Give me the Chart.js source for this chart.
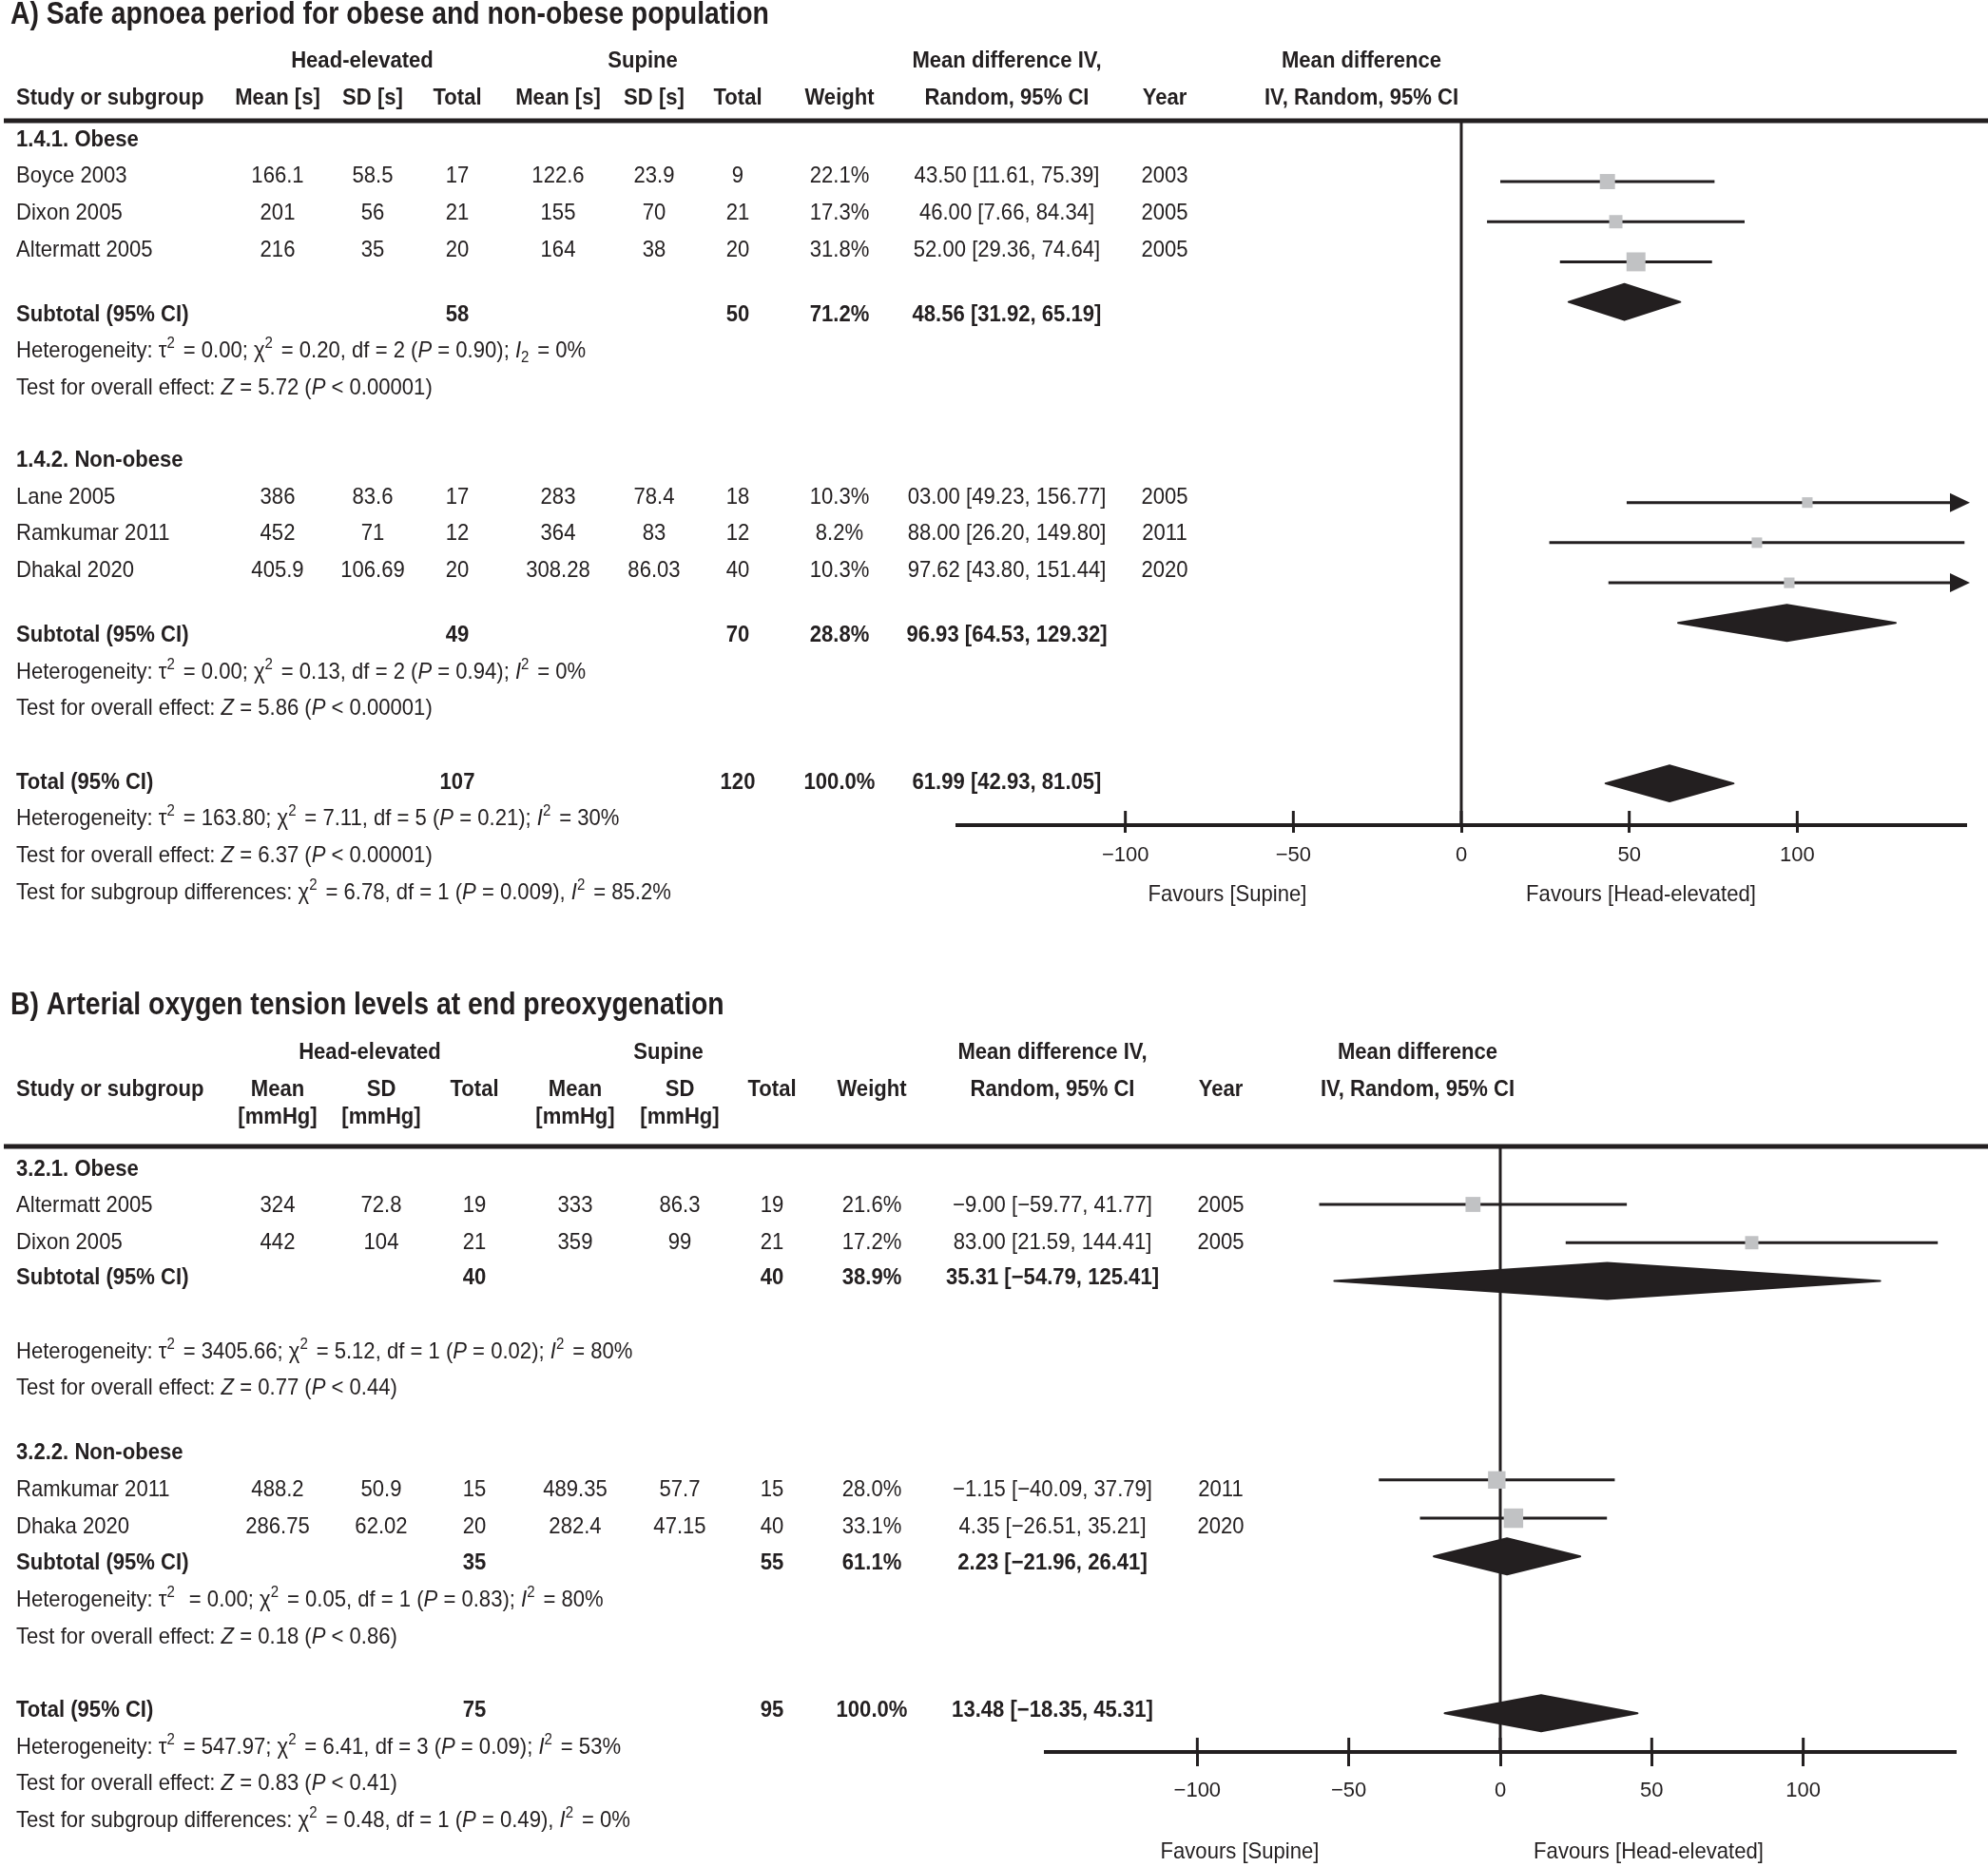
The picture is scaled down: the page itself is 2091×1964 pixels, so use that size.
<!DOCTYPE html>
<html lang="en">
<head>
<meta charset="utf-8">
<title>Forest plots: head-elevated vs supine</title>
<script src="https://cdn.jsdelivr.net/npm/chart.js@4.4.1/dist/chart.umd.min.js"></script>
<style>
  html, body { margin: 0; padding: 0; background: #fff; }
  body { width: 2091px; height: 1964px; position: relative; overflow: hidden; }
  canvas { position: absolute; left: 0; }
  #plotA { top: 0; }
  #plotB { top: 985px; }
</style>
</head>
<body>
<canvas id="plotA" width="2091" height="985"></canvas>
<canvas id="plotB" width="2091" height="979"></canvas>
<script>
// ---------- A) safe apnoea period [s] ----------
const groupsA   = ['1.4.1. Obese', '1.4.2. Non-obese'];
const studiesA  = ['Boyce 2003', 'Dixon 2005', 'Altermatt 2005', 'Lane 2005', 'Ramkumar 2011', 'Dhakal 2020'];
const groupOfA  = [0, 0, 0, 1, 1, 1];
const heMeanA   = [166.1, 201, 216, 386, 452, 405.9];
const heSdA     = [58.5, 56, 35, 83.6, 71, 106.69];
const heNA      = [17, 21, 20, 17, 12, 20];
const suMeanA   = [122.6, 155, 164, 283, 364, 308.28];
const suSdA     = [23.9, 70, 38, 78.4, 83, 86.03];
const suNA      = [9, 21, 20, 18, 12, 40];
const weightA   = [22.1, 17.3, 31.8, 10.3, 8.2, 10.3];
const mdA       = [43.50, 46.00, 52.00, 103.00, 88.00, 97.62];
const loA       = [11.61, 7.66, 29.36, 49.23, 26.20, 43.80];
const hiA       = [75.39, 84.34, 74.64, 156.77, 149.80, 151.44];
const yearA     = [2003, 2005, 2005, 2005, 2011, 2020];
// the source figure prints Lane's estimate truncated
const printedMdA = { 'Lane 2005': '03.00' };

const sumLabelA  = ['Subtotal (95% CI)', 'Subtotal (95% CI)', 'Total (95% CI)'];
const sumHeNA    = [58, 49, 107];
const sumSuNA    = [50, 70, 120];
const sumWeightA = [71.2, 28.8, 100.0];
const sumMdA     = [48.56, 96.93, 61.99];
const sumLoA     = [31.92, 64.53, 42.93];
const sumHiA     = [65.19, 129.32, 81.05];
const statsA = [
  ['Heterogeneity: τ^2 = 0.00; χ^2 = 0.20, df = 2 (*P* = 0.90); *I*_2 = 0%',
   'Test for overall effect: *Z* = 5.72 (*P* < 0.00001)'],
  ['Heterogeneity: τ^2 = 0.00; χ^2 = 0.13, df = 2 (*P* = 0.94); *I*^2 = 0%',
   'Test for overall effect: *Z* = 5.86 (*P* < 0.00001)'],
  ['Heterogeneity: τ^2 = 163.80; χ^2 = 7.11, df = 5 (*P* = 0.21); *I*^2 = 30%',
   'Test for overall effect: *Z* = 6.37 (*P* < 0.00001)',
   'Test for subgroup differences: χ^2 = 6.78, df = 1 (*P* = 0.009), *I*^2 = 85.2%']
];

// ---------- B) arterial oxygen tension [mmHg] ----------
const groupsB   = ['3.2.1. Obese', '3.2.2. Non-obese'];
const studiesB  = ['Altermatt 2005', 'Dixon 2005', 'Ramkumar 2011', 'Dhaka 2020'];
const groupOfB  = [0, 0, 1, 1];
const heMeanB   = [324, 442, 488.2, 286.75];
const heSdB     = [72.8, 104, 50.9, 62.02];
const heNB      = [19, 21, 15, 20];
const suMeanB   = [333, 359, 489.35, 282.4];
const suSdB     = [86.3, 99, 57.7, 47.15];
const suNB      = [19, 21, 15, 40];
const weightB   = [21.6, 17.2, 28.0, 33.1];
const mdB       = [-9.00, 83.00, -1.15, 4.35];
const loB       = [-59.77, 21.59, -40.09, -26.51];
const hiB       = [41.77, 144.41, 37.79, 35.21];
const yearB     = [2005, 2005, 2011, 2020];

const sumLabelB  = ['Subtotal (95% CI)', 'Subtotal (95% CI)', 'Total (95% CI)'];
const sumHeNB    = [40, 35, 75];
const sumSuNB    = [40, 55, 95];
const sumWeightB = [38.9, 61.1, 100.0];
const sumMdB     = [35.31, 2.23, 13.48];
const sumLoB     = [-54.79, -21.96, -18.35];
const sumHiB     = [125.41, 26.41, 45.31];
const statsB = [
  ['Heterogeneity: τ^2 = 3405.66; χ^2 = 5.12, df = 1 (*P* = 0.02); *I*^2 = 80%',
   'Test for overall effect: *Z* = 0.77 (*P* < 0.44)'],
  ['Heterogeneity: τ^2  = 0.00; χ^2 = 0.05, df = 1 (*P* = 0.83); *I*^2 = 80%',
   'Test for overall effect: *Z* = 0.18 (*P* < 0.86)'],
  ['Heterogeneity: τ^2 = 547.97; χ^2 = 6.41, df = 3 (*P* = 0.09); *I*^2 = 53%',
   'Test for overall effect: *Z* = 0.83 (*P* < 0.41)',
   'Test for subgroup differences: χ^2 = 0.48, df = 1 (*P* = 0.49), *I*^2 = 0%']
];

// shared axis
const xMin = -150, xMax = 150;
const xTicks = [-100, -50, 0, 50, 100];
const favoursLabels = ['Favours [Supine]', 'Favours [Head-elevated]'];

// ---------- styles / layout ----------
const INK = '#231f20';
const GREY = '#c1c2c4';
const FONT = '"Liberation Sans", Arial, sans-serif';
const SIZE = 24;
const SX = 0.92;        // squeeze to mimic the condensed face of the source
const AXIS_H = 70;

const layoutA = {
  top: 0, height: 985,
  titleY: 16,
  head: [
    { y: 64, items: [['Head-elevated', 381], ['Supine', 676], ['Mean difference IV,', 1059], ['Mean difference', 1432]] },
    { y: 103, items: [['Mean [s]', 292], ['SD [s]', 392], ['Total', 481], ['Mean [s]', 587], ['SD [s]', 688], ['Total', 776],
                      ['Weight', 883], ['Random, 95% CI', 1059], ['Year', 1225], ['IV, Random, 95% CI', 1432]] }
  ],
  studyHeadY: 103,
  col: { name: 17, heMean: 292, heSd: 392, heN: 481, suMean: 587, suSd: 688, suN: 776, weight: 883, ci: 1059, year: 1225 },
  groupY: [147, 484],
  studyY: [185, 224, 263, 523, 561, 600],
  sumY: [331, 668, 823],
  statsY: [[369, 408], [707, 745], [861, 900, 939]],
  studyRow: [0, 1, 2, 8, 9, 10],
  sumRow: [3, 11, 15],
  rowMin: -1.517, rowMax: 16.04,
  area: { left: 1007, right: 2067, top: 127, bottom: 868 },
  tickDown: 8, tickPad: 11,
  favoursY: 941, favoursX: [1291, 1726]
};

const layoutB = {
  top: 985, height: 979,
  titleY: 1058,
  head: [
    { y: 1107, items: [['Head-elevated', 389], ['Supine', 703], ['Mean difference IV,', 1107], ['Mean difference', 1491]] },
    { y: 1146, items: [['Mean', 292], ['SD', 401], ['Total', 499], ['Mean', 605], ['SD', 715], ['Total', 812],
                       ['Weight', 917], ['Random, 95% CI', 1107], ['Year', 1284], ['IV, Random, 95% CI', 1491]] },
    { y: 1175, items: [['[mmHg]', 292], ['[mmHg]', 401], ['[mmHg]', 605], ['[mmHg]', 715]] }
  ],
  studyHeadY: 1146,
  col: { name: 17, heMean: 292, heSd: 401, heN: 499, suMean: 605, suSd: 715, suN: 812, weight: 917, ci: 1107, year: 1284 },
  groupY: [1230, 1528],
  studyY: [1268, 1307, 1567, 1606],
  sumY: [1344, 1644, 1799],
  statsY: [[1422, 1460], [1683, 1722], [1838, 1876, 1915]],
  studyRow: [0, 1, 7.2, 8.2],
  sumRow: [2, 9.2, 13.3],
  rowMin: -1.5155, rowMax: 14.31,
  area: { left: 1100, right: 2056, top: 1206, bottom: 1843 },
  tickDown: 15, tickPad: 13,
  favoursY: 1948, favoursX: [1304, 1734]
};

const panelA = {
  title: 'A) Safe apnoea period for obese and non-obese population',
  groups: groupsA, studies: studiesA, groupOf: groupOfA,
  heMean: heMeanA, heSd: heSdA, heN: heNA, suMean: suMeanA, suSd: suSdA, suN: suNA,
  weight: weightA, md: mdA, lo: loA, hi: hiA, year: yearA, printedMd: printedMdA,
  sumLabel: sumLabelA, sumHeN: sumHeNA, sumSuN: sumSuNA, sumWeight: sumWeightA,
  sumMd: sumMdA, sumLo: sumLoA, sumHi: sumHiA, stats: statsA
};
const panelB = {
  title: 'B) Arterial oxygen tension levels at end preoxygenation',
  groups: groupsB, studies: studiesB, groupOf: groupOfB,
  heMean: heMeanB, heSd: heSdB, heN: heNB, suMean: suMeanB, suSd: suSdB, suN: suNB,
  weight: weightB, md: mdB, lo: loB, hi: hiB, year: yearB, printedMd: {},
  sumLabel: sumLabelB, sumHeN: sumHeNB, sumSuN: sumSuNB, sumWeight: sumWeightB,
  sumMd: sumMdB, sumLo: sumLoB, sumHi: sumHiB, stats: statsB
};

// ---------- helpers ----------
const num = (v, d) => (v < 0 ? '−' : '') + Math.abs(v).toFixed(d);
const ciText = (m, lo, hi, est) => `${est || num(m, 2)} [${num(lo, 2)}, ${num(hi, 2)}]`;
const squareSide = w => Math.max(11, 6.9 + 0.41 * w);

function txt(ctx, s, x, y, o = {}) {
  ctx.save();
  ctx.translate(x, y);
  ctx.scale(o.sx || SX, 1);
  ctx.font = `${o.bold ? 'bold ' : ''}${o.size || SIZE}px ${FONT}`;
  ctx.fillStyle = INK;
  ctx.textAlign = o.align || 'center';
  ctx.textBaseline = 'middle';
  ctx.fillText(s, 0, 0);
  ctx.restore();
}

// *italic*, ^x superscript, _x subscript
function rich(ctx, s, x, y) {
  const parts = [];
  let it = false, buf = '';
  for (let i = 0; i < s.length; i++) {
    const c = s[i];
    if (c === '*') { if (buf) parts.push({ t: buf, it }); buf = ''; it = !it; }
    else if (c === '^' || c === '_') {
      if (buf) parts.push({ t: buf, it }); buf = '';
      parts.push({ t: s[++i], it: false, pos: c });
    } else buf += c;
  }
  if (buf) parts.push({ t: buf, it });

  ctx.save();
  ctx.translate(x, y);
  ctx.scale(SX, 1);
  ctx.fillStyle = INK;
  ctx.textAlign = 'left';
  ctx.textBaseline = 'middle';
  let cx = 0;
  parts.forEach(p => {
    const fs = p.pos ? SIZE * 0.68 : SIZE;
    ctx.font = `${p.it ? 'italic ' : ''}${fs}px ${FONT}`;
    const dy = p.pos === '^' ? -SIZE * 0.33 : p.pos === '_' ? SIZE * 0.3 : 0;
    ctx.fillText(p.t, cx, dy);
    cx += ctx.measureText(p.t).width + (p.pos ? 3 : 0);
  });
  ctx.restore();
}

function forestPlugin(P, L) {
  return {
    id: 'forestTable',
    afterDatasetsDraw(chart) {
      const { ctx, chartArea } = chart;
      const xs = chart.scales.x, ys = chart.scales.y;
      ctx.save();
      ctx.fillStyle = INK;
      ctx.strokeStyle = INK;
      // pooled diamonds
      P.sumMd.forEach((m, i) => {
        const y = ys.getPixelForValue(L.sumRow[i]);
        const xl = xs.getPixelForValue(P.sumLo[i]);
        const xm = xs.getPixelForValue(m);
        const xr = xs.getPixelForValue(P.sumHi[i]);
        ctx.beginPath();
        ctx.moveTo(xl, y); ctx.lineTo(xm, y - 19); ctx.lineTo(xr, y); ctx.lineTo(xm, y + 19);
        ctx.closePath();
        ctx.lineJoin = 'round'; ctx.lineWidth = 2;
        ctx.fill(); ctx.stroke();
      });
      // arrows where the interval runs past the axis
      P.hi.forEach((h, i) => {
        if (h <= xMax) return;
        const y = ys.getPixelForValue(L.studyRow[i]);
        const tip = xs.getPixelForValue(xMax) + 5;
        ctx.beginPath();
        ctx.moveTo(tip, y); ctx.lineTo(tip - 21, y - 10); ctx.lineTo(tip - 21, y + 10);
        ctx.closePath(); ctx.fill();
      });
      // upper half of the tick marks
      ctx.lineWidth = 3;
      xs.ticks.forEach(t => {
        const px = xs.getPixelForValue(t.value);
        ctx.beginPath();
        ctx.moveTo(px, chartArea.bottom - 15); ctx.lineTo(px, chartArea.bottom);
        ctx.stroke();
      });
      ctx.restore();
    },
    afterDraw(chart) {
      const ctx = chart.ctx;
      const o = L.top;
      const c = L.col;
      txt(ctx, P.title, 11, L.titleY - o, { bold: true, size: 33, sx: 0.86, align: 'left' });
      L.head.forEach(line => line.items.forEach(([s, x]) => txt(ctx, s, x, line.y - o, { bold: true })));
      txt(ctx, 'Study or subgroup', c.name, L.studyHeadY - o, { bold: true, align: 'left' });

      // rule under the header
      ctx.save();
      ctx.strokeStyle = INK; ctx.lineWidth = 5;
      ctx.beginPath(); ctx.moveTo(4, L.area.top - o); ctx.lineTo(2091, L.area.top - o); ctx.stroke();
      ctx.restore();

      P.groups.forEach((g, i) => txt(ctx, g, c.name, L.groupY[i] - o, { bold: true, align: 'left' }));
      P.studies.forEach((s, i) => {
        const y = L.studyY[i] - o;
        txt(ctx, s, c.name, y, { align: 'left' });
        txt(ctx, String(P.heMean[i]), c.heMean, y);
        txt(ctx, String(P.heSd[i]), c.heSd, y);
        txt(ctx, String(P.heN[i]), c.heN, y);
        txt(ctx, String(P.suMean[i]), c.suMean, y);
        txt(ctx, String(P.suSd[i]), c.suSd, y);
        txt(ctx, String(P.suN[i]), c.suN, y);
        txt(ctx, P.weight[i].toFixed(1) + '%', c.weight, y);
        txt(ctx, ciText(P.md[i], P.lo[i], P.hi[i], P.printedMd[s]), c.ci, y);
        txt(ctx, String(P.year[i]), c.year, y);
      });
      P.sumLabel.forEach((s, i) => {
        const y = L.sumY[i] - o;
        const b = { bold: true };
        txt(ctx, s, c.name, y, { bold: true, align: 'left' });
        txt(ctx, String(P.sumHeN[i]), c.heN, y, b);
        txt(ctx, String(P.sumSuN[i]), c.suN, y, b);
        txt(ctx, P.sumWeight[i].toFixed(1) + '%', c.weight, y, b);
        txt(ctx, ciText(P.sumMd[i], P.sumLo[i], P.sumHi[i]), c.ci, y, b);
        P.stats[i].forEach((line, j) => rich(ctx, line, c.name, L.statsY[i][j] - o));
      });
      favoursLabels.forEach((s, i) => txt(ctx, s, L.favoursX[i], L.favoursY - o));
    }
  };
}

function buildDatasets(P, L) {
  const sets = [];
  sets.push({
    data: [{ x: 0, y: L.rowMin }, { x: 0, y: L.rowMax }],
    showLine: true, borderColor: INK, borderWidth: 3, pointRadius: 0, order: 3
  });
  P.studies.forEach((s, i) => {
    sets.push({
      data: [{ x: Math.max(P.lo[i], xMin), y: L.studyRow[i] }, { x: Math.min(P.hi[i], xMax), y: L.studyRow[i] }],
      showLine: true, borderColor: INK, borderWidth: 3, pointRadius: 0, order: 2
    });
  });
  sets.push({
    data: P.md.map((m, i) => ({ x: m, y: L.studyRow[i] })),
    pointStyle: 'rect',
    pointRadius: P.weight.map(w => squareSide(w) / Math.SQRT2),
    pointBackgroundColor: GREY, pointBorderWidth: 0, order: 1
  });
  return sets;
}

function makeChart(id, P, L) {
  return new Chart(document.getElementById(id), {
    type: 'scatter',
    data: { datasets: buildDatasets(P, L) },
    options: {
      responsive: false, animation: false, devicePixelRatio: 1, events: [],
      layout: {
        padding: {
          left: L.area.left, right: 2091 - L.area.right,
          top: L.area.top - L.top,
          bottom: L.height - (L.area.bottom - L.top) - AXIS_H
        }
      },
      plugins: { legend: { display: false }, tooltip: { enabled: false } },
      scales: {
        x: {
          type: 'linear', min: xMin, max: xMax,
          afterBuildTicks: s => { s.ticks = xTicks.map(v => ({ value: v })); },
          afterFit: s => { s.height = AXIS_H; },
          border: { display: true, color: INK, width: 4 },
          grid: { drawOnChartArea: false, drawTicks: true, tickLength: L.tickDown, lineWidth: 3, color: INK },
          ticks: {
            color: INK, font: { family: FONT, size: 22 }, padding: L.tickPad,
            autoSkip: false, maxRotation: 0,
            callback: v => (v < 0 ? '−' + Math.abs(v) : String(v))
          }
        },
        y: { type: 'linear', display: false, reverse: true, min: L.rowMin, max: L.rowMax }
      }
    },
    plugins: [forestPlugin(P, L)]
  });
}

makeChart('plotA', panelA, layoutA);
makeChart('plotB', panelB, layoutB);
</script>
</body>
</html>
